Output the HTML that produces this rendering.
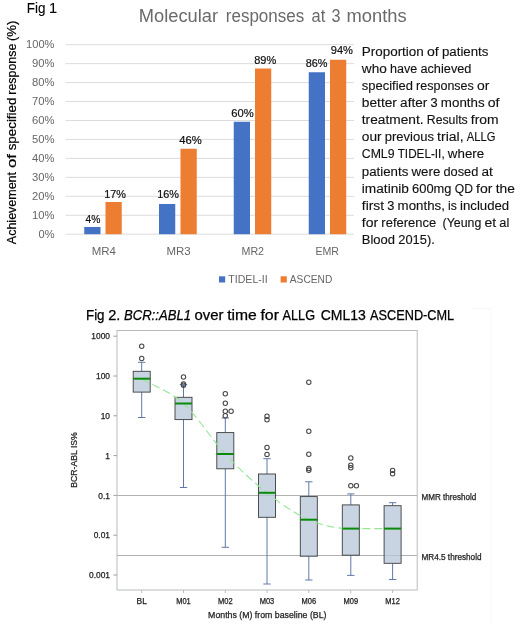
<!DOCTYPE html>
<html><head><meta charset="utf-8"><title>Fig</title>
<style>html,body{margin:0;padding:0;background:#fff}svg{display:block;filter:blur(0.45px)}text{font-family:"Liberation Sans",sans-serif}</style>
</head><body>
<svg width="520" height="624" viewBox="0 0 520 624">
<rect width="520" height="624" fill="#fff"/>
<line x1="65.6" x2="354" y1="234.20" y2="234.20" stroke="#dcdcdc" stroke-width="1"/>
<line x1="65.6" x2="354" y1="215.25" y2="215.25" stroke="#dcdcdc" stroke-width="1"/>
<line x1="65.6" x2="354" y1="196.30" y2="196.30" stroke="#dcdcdc" stroke-width="1"/>
<line x1="65.6" x2="354" y1="177.35" y2="177.35" stroke="#dcdcdc" stroke-width="1"/>
<line x1="65.6" x2="354" y1="158.40" y2="158.40" stroke="#dcdcdc" stroke-width="1"/>
<line x1="65.6" x2="354" y1="139.45" y2="139.45" stroke="#dcdcdc" stroke-width="1"/>
<line x1="65.6" x2="354" y1="120.50" y2="120.50" stroke="#dcdcdc" stroke-width="1"/>
<line x1="65.6" x2="354" y1="101.55" y2="101.55" stroke="#dcdcdc" stroke-width="1"/>
<line x1="65.6" x2="354" y1="82.60" y2="82.60" stroke="#dcdcdc" stroke-width="1"/>
<line x1="65.6" x2="354" y1="63.65" y2="63.65" stroke="#dcdcdc" stroke-width="1"/>
<line x1="65.6" x2="354" y1="44.70" y2="44.70" stroke="#dcdcdc" stroke-width="1"/>
<text x="26.1" y="48.40" font-size="10.8" fill="#666" textLength="28.4" lengthAdjust="spacingAndGlyphs">100%</text>
<text x="32" y="67.35" font-size="10.8" fill="#666" textLength="22.5" lengthAdjust="spacingAndGlyphs">90%</text>
<text x="32" y="86.30" font-size="10.8" fill="#666" textLength="22.5" lengthAdjust="spacingAndGlyphs">80%</text>
<text x="32" y="105.25" font-size="10.8" fill="#666" textLength="22.5" lengthAdjust="spacingAndGlyphs">70%</text>
<text x="32" y="124.20" font-size="10.8" fill="#666" textLength="22.5" lengthAdjust="spacingAndGlyphs">60%</text>
<text x="32" y="143.15" font-size="10.8" fill="#666" textLength="22.5" lengthAdjust="spacingAndGlyphs">50%</text>
<text x="32" y="162.10" font-size="10.8" fill="#666" textLength="22.5" lengthAdjust="spacingAndGlyphs">40%</text>
<text x="32" y="181.05" font-size="10.8" fill="#666" textLength="22.5" lengthAdjust="spacingAndGlyphs">30%</text>
<text x="32" y="200.00" font-size="10.8" fill="#666" textLength="22.5" lengthAdjust="spacingAndGlyphs">20%</text>
<text x="32" y="218.95" font-size="10.8" fill="#666" textLength="22.5" lengthAdjust="spacingAndGlyphs">10%</text>
<text x="38.5" y="237.90" font-size="10.8" fill="#666" textLength="16.0" lengthAdjust="spacingAndGlyphs">0%</text>
<rect x="84.25" y="227" width="16.25" height="7.20" fill="#4472c4"/>
<rect x="105.5" y="202" width="16.25" height="32.20" fill="#ed7d31"/>
<rect x="159" y="204" width="16.25" height="30.20" fill="#4472c4"/>
<rect x="180.5" y="148.75" width="16.25" height="85.45" fill="#ed7d31"/>
<rect x="233.75" y="121.75" width="16.25" height="112.45" fill="#4472c4"/>
<rect x="255" y="68.5" width="16.25" height="165.70" fill="#ed7d31"/>
<rect x="308.75" y="72.25" width="16.25" height="161.95" fill="#4472c4"/>
<rect x="330" y="59.75" width="16.25" height="174.45" fill="#ed7d31"/>
<text x="85.5" y="223.25" font-size="10.8" fill="#111" textLength="14.8" lengthAdjust="spacingAndGlyphs" stroke="#111" stroke-width="0.2">4%</text>
<text x="104.25" y="198" font-size="10.8" fill="#111" textLength="21.8" lengthAdjust="spacingAndGlyphs" stroke="#111" stroke-width="0.2">17%</text>
<text x="157.25" y="198.4" font-size="10.8" fill="#111" textLength="21.8" lengthAdjust="spacingAndGlyphs" stroke="#111" stroke-width="0.2">16%</text>
<text x="179.25" y="143.75" font-size="10.8" fill="#111" textLength="22.5" lengthAdjust="spacingAndGlyphs" stroke="#111" stroke-width="0.2">46%</text>
<text x="231.25" y="116.75" font-size="10.8" fill="#111" textLength="22.5" lengthAdjust="spacingAndGlyphs" stroke="#111" stroke-width="0.2">60%</text>
<text x="254.25" y="64" font-size="10.8" fill="#111" textLength="22.0" lengthAdjust="spacingAndGlyphs" stroke="#111" stroke-width="0.2">89%</text>
<text x="305.75" y="67.25" font-size="10.8" fill="#111" textLength="21.8" lengthAdjust="spacingAndGlyphs" stroke="#111" stroke-width="0.2">86%</text>
<text x="330.75" y="54" font-size="10.8" fill="#111" textLength="22.2" lengthAdjust="spacingAndGlyphs" stroke="#111" stroke-width="0.2">94%</text>
<text x="91.8" y="254.7" font-size="10.8" fill="#666" textLength="24.2" lengthAdjust="spacingAndGlyphs">MR4</text>
<text x="166.4" y="254.7" font-size="10.8" fill="#666" textLength="24.2" lengthAdjust="spacingAndGlyphs">MR3</text>
<text x="241.5" y="254.7" font-size="10.8" fill="#666" textLength="22.5" lengthAdjust="spacingAndGlyphs">MR2</text>
<text x="315.4" y="254.7" font-size="10.8" fill="#666" textLength="23.6" lengthAdjust="spacingAndGlyphs">EMR</text>
<rect x="219" y="276.3" width="6.2" height="6.2" fill="#4472c4"/>
<text x="228.3" y="283" font-size="10.8" fill="#666" textLength="39.4" lengthAdjust="spacingAndGlyphs">TIDEL-II</text>
<rect x="280.6" y="276.3" width="6.2" height="6.2" fill="#ed7d31"/>
<text x="289.8" y="283" font-size="10.8" fill="#666" textLength="42.5" lengthAdjust="spacingAndGlyphs">ASCEND</text>
<text x="138.8" y="21.7" font-size="17.5" fill="#6a6a6a" textLength="79.2" lengthAdjust="spacingAndGlyphs">Molecular</text>
<text x="225.8" y="21.7" font-size="17.5" fill="#6a6a6a" textLength="78.4" lengthAdjust="spacingAndGlyphs">responses</text>
<text x="311.6" y="21.7" font-size="17.5" fill="#6a6a6a" textLength="13.7" lengthAdjust="spacingAndGlyphs">at</text>
<text x="331.5" y="21.7" font-size="17.5" fill="#6a6a6a" textLength="9.0" lengthAdjust="spacingAndGlyphs">3</text>
<text x="346.5" y="21.7" font-size="17.5" fill="#6a6a6a" textLength="60.1" lengthAdjust="spacingAndGlyphs">months</text>
<text x="26.80" y="12.5" font-size="13.9" fill="#000" textLength="18.67" lengthAdjust="spacingAndGlyphs" stroke="#000" stroke-width="0.1">Fig</text>
<text x="49.11" y="12.5" font-size="13.9" fill="#000" textLength="8.16" lengthAdjust="spacingAndGlyphs" stroke="#000" stroke-width="0.1">1</text>
<g transform="translate(16.2,244.2) rotate(-90)">
<text x="0.05" y="0" font-size="12.6" fill="#000" textLength="72.2" lengthAdjust="spacingAndGlyphs" stroke="#000" stroke-width="0.2">Achievement</text>
<text x="76.10" y="0" font-size="12.6" fill="#000" textLength="14.1" lengthAdjust="spacingAndGlyphs" stroke="#000" stroke-width="0.2">of</text>
<text x="93.90" y="0" font-size="12.6" fill="#000" textLength="52.7" lengthAdjust="spacingAndGlyphs" stroke="#000" stroke-width="0.2">specified</text>
<text x="149.50" y="0" font-size="12.6" fill="#000" textLength="51.0" lengthAdjust="spacingAndGlyphs" stroke="#000" stroke-width="0.2">response</text>
<text x="203.20" y="0" font-size="12.6" fill="#000" textLength="20.4" lengthAdjust="spacingAndGlyphs" stroke="#000" stroke-width="0.2">(%)</text>
</g>
<rect x="354" y="38" width="166" height="215" fill="#fff"/>
<text x="361.80" y="55.6" font-size="12" fill="#111" textLength="62.00" lengthAdjust="spacingAndGlyphs" stroke="#111" stroke-width="0.12">Proportion</text>
<text x="426.99" y="55.6" font-size="12" fill="#111" textLength="11.76" lengthAdjust="spacingAndGlyphs" stroke="#111" stroke-width="0.12">of</text>
<text x="441.95" y="55.6" font-size="12" fill="#111" textLength="46.52" lengthAdjust="spacingAndGlyphs" stroke="#111" stroke-width="0.12">patients</text>
<text x="361.80" y="72.5" font-size="12" fill="#111" textLength="24.98" lengthAdjust="spacingAndGlyphs" stroke="#111" stroke-width="0.12">who</text>
<text x="389.97" y="72.5" font-size="12" fill="#111" textLength="27.23" lengthAdjust="spacingAndGlyphs" stroke="#111" stroke-width="0.12">have</text>
<text x="420.40" y="72.5" font-size="12" fill="#111" textLength="51.07" lengthAdjust="spacingAndGlyphs" stroke="#111" stroke-width="0.12">achieved</text>
<text x="361.80" y="89.5" font-size="12" fill="#111" textLength="51.13" lengthAdjust="spacingAndGlyphs" stroke="#111" stroke-width="0.12">specified</text>
<text x="416.13" y="89.5" font-size="12" fill="#111" textLength="57.68" lengthAdjust="spacingAndGlyphs" stroke="#111" stroke-width="0.12">responses</text>
<text x="477.00" y="89.5" font-size="12" fill="#111" textLength="12.38" lengthAdjust="spacingAndGlyphs" stroke="#111" stroke-width="0.12">or</text>
<text x="361.80" y="106.6" font-size="12" fill="#111" textLength="35.15" lengthAdjust="spacingAndGlyphs" stroke="#111" stroke-width="0.12">better</text>
<text x="400.14" y="106.6" font-size="12" fill="#111" textLength="27.19" lengthAdjust="spacingAndGlyphs" stroke="#111" stroke-width="0.12">after</text>
<text x="430.53" y="106.6" font-size="12" fill="#111" textLength="7.16" lengthAdjust="spacingAndGlyphs" stroke="#111" stroke-width="0.12">3</text>
<text x="440.88" y="106.6" font-size="12" fill="#111" textLength="43.71" lengthAdjust="spacingAndGlyphs" stroke="#111" stroke-width="0.12">months</text>
<text x="487.79" y="106.6" font-size="12" fill="#111" textLength="11.76" lengthAdjust="spacingAndGlyphs" stroke="#111" stroke-width="0.12">of</text>
<text x="361.80" y="123.5" font-size="12" fill="#111" textLength="61.78" lengthAdjust="spacingAndGlyphs" stroke="#111" stroke-width="0.12">treatment.</text>
<text x="426.78" y="123.5" font-size="12" fill="#111" textLength="40.91" lengthAdjust="spacingAndGlyphs" stroke="#111" stroke-width="0.12">Results</text>
<text x="470.88" y="123.5" font-size="12" fill="#111" textLength="27.75" lengthAdjust="spacingAndGlyphs" stroke="#111" stroke-width="0.12">from</text>
<text x="361.80" y="140.8" font-size="12" fill="#111" textLength="19.80" lengthAdjust="spacingAndGlyphs" stroke="#111" stroke-width="0.12">our</text>
<text x="384.80" y="140.8" font-size="12" fill="#111" textLength="49.15" lengthAdjust="spacingAndGlyphs" stroke="#111" stroke-width="0.12">previous</text>
<text x="437.14" y="140.8" font-size="12" fill="#111" textLength="26.44" lengthAdjust="spacingAndGlyphs" stroke="#111" stroke-width="0.12">trial,</text>
<text x="466.78" y="140.8" font-size="12" fill="#111" textLength="28.65" lengthAdjust="spacingAndGlyphs" stroke="#111" stroke-width="0.12">ALLG</text>
<text x="361.80" y="158.3" font-size="12" fill="#111" textLength="32.72" lengthAdjust="spacingAndGlyphs" stroke="#111" stroke-width="0.12">CML9</text>
<text x="397.71" y="158.3" font-size="12" fill="#111" textLength="46.95" lengthAdjust="spacingAndGlyphs" stroke="#111" stroke-width="0.12">TIDEL-II,</text>
<text x="447.86" y="158.3" font-size="12" fill="#111" textLength="36.33" lengthAdjust="spacingAndGlyphs" stroke="#111" stroke-width="0.12">where</text>
<text x="361.80" y="175.6" font-size="12" fill="#111" textLength="46.52" lengthAdjust="spacingAndGlyphs" stroke="#111" stroke-width="0.12">patients</text>
<text x="411.51" y="175.6" font-size="12" fill="#111" textLength="28.78" lengthAdjust="spacingAndGlyphs" stroke="#111" stroke-width="0.12">were</text>
<text x="443.48" y="175.6" font-size="12" fill="#111" textLength="34.86" lengthAdjust="spacingAndGlyphs" stroke="#111" stroke-width="0.12">dosed</text>
<text x="481.53" y="175.6" font-size="12" fill="#111" textLength="11.37" lengthAdjust="spacingAndGlyphs" stroke="#111" stroke-width="0.12">at</text>
<text x="361.80" y="192.5" font-size="12" fill="#111" textLength="47.13" lengthAdjust="spacingAndGlyphs" stroke="#111" stroke-width="0.12">imatinib</text>
<text x="412.12" y="192.5" font-size="12" fill="#111" textLength="39.42" lengthAdjust="spacingAndGlyphs" stroke="#111" stroke-width="0.12">600mg</text>
<text x="454.74" y="192.5" font-size="12" fill="#111" textLength="18.20" lengthAdjust="spacingAndGlyphs" stroke="#111" stroke-width="0.12">QD</text>
<text x="476.14" y="192.5" font-size="12" fill="#111" textLength="16.39" lengthAdjust="spacingAndGlyphs" stroke="#111" stroke-width="0.12">for</text>
<text x="495.73" y="192.5" font-size="12" fill="#111" textLength="19.19" lengthAdjust="spacingAndGlyphs" stroke="#111" stroke-width="0.12">the</text>
<text x="361.80" y="209.6" font-size="12" fill="#111" textLength="22.26" lengthAdjust="spacingAndGlyphs" stroke="#111" stroke-width="0.12">first</text>
<text x="387.26" y="209.6" font-size="12" fill="#111" textLength="7.16" lengthAdjust="spacingAndGlyphs" stroke="#111" stroke-width="0.12">3</text>
<text x="397.62" y="209.6" font-size="12" fill="#111" textLength="47.24" lengthAdjust="spacingAndGlyphs" stroke="#111" stroke-width="0.12">months,</text>
<text x="448.05" y="209.6" font-size="12" fill="#111" textLength="8.77" lengthAdjust="spacingAndGlyphs" stroke="#111" stroke-width="0.12">is</text>
<text x="460.01" y="209.6" font-size="12" fill="#111" textLength="49.19" lengthAdjust="spacingAndGlyphs" stroke="#111" stroke-width="0.12">included</text>
<text x="361.80" y="226.5" font-size="12" fill="#111" textLength="16.39" lengthAdjust="spacingAndGlyphs" stroke="#111" stroke-width="0.12">for</text>
<text x="381.39" y="226.5" font-size="12" fill="#111" textLength="54.84" lengthAdjust="spacingAndGlyphs" stroke="#111" stroke-width="0.12">reference</text>
<text x="442.61" y="226.5" font-size="12" fill="#111" textLength="38.69" lengthAdjust="spacingAndGlyphs" stroke="#111" stroke-width="0.12">(Yeung</text>
<text x="484.49" y="226.5" font-size="12" fill="#111" textLength="11.69" lengthAdjust="spacingAndGlyphs" stroke="#111" stroke-width="0.12">et</text>
<text x="499.38" y="226.5" font-size="12" fill="#111" textLength="10.01" lengthAdjust="spacingAndGlyphs" stroke="#111" stroke-width="0.12">al</text>
<text x="361.80" y="243.8" font-size="12" fill="#111" textLength="33.26" lengthAdjust="spacingAndGlyphs" stroke="#111" stroke-width="0.12">Blood</text>
<text x="398.25" y="243.8" font-size="12" fill="#111" textLength="36.50" lengthAdjust="spacingAndGlyphs" stroke="#111" stroke-width="0.12">2015).</text>
<text x="86.00" y="319.6" font-size="14" fill="#000" textLength="18.54" lengthAdjust="spacingAndGlyphs" stroke="#000" stroke-width="0.25">Fig</text>
<text x="108.16" y="319.6" font-size="14" fill="#000" textLength="12.14" lengthAdjust="spacingAndGlyphs" stroke="#000" stroke-width="0.25">2.</text>
<text x="123.91" y="319.6" font-size="14" fill="#000" textLength="67.07" lengthAdjust="spacingAndGlyphs" font-style="italic" stroke="#000" stroke-width="0.25">BCR::ABL1</text>
<text x="194.60" y="319.6" font-size="14" fill="#000" textLength="28.96" lengthAdjust="spacingAndGlyphs" stroke="#000" stroke-width="0.25">over</text>
<text x="227.17" y="319.6" font-size="14" fill="#000" textLength="29.64" lengthAdjust="spacingAndGlyphs" stroke="#000" stroke-width="0.25">time</text>
<text x="260.42" y="319.6" font-size="14" fill="#000" textLength="18.55" lengthAdjust="spacingAndGlyphs" stroke="#000" stroke-width="0.25">for</text>
<text x="282.59" y="319.6" font-size="14" fill="#000" textLength="32.42" lengthAdjust="spacingAndGlyphs" stroke="#000" stroke-width="0.25">ALLG</text>
<text x="320.7" y="319.6" font-size="14" fill="#000" textLength="45.2" lengthAdjust="spacingAndGlyphs" stroke="#000" stroke-width="0.25">CML13</text>
<text x="370.1" y="319.6" font-size="14" fill="#000" textLength="84.1" lengthAdjust="spacingAndGlyphs" stroke="#000" stroke-width="0.25">ASCEND-CML</text>
<line x1="117" x2="417.2" y1="495.50" y2="495.50" stroke="#b0b0b0" stroke-width="1"/>
<line x1="117" x2="417.2" y1="555.50" y2="555.50" stroke="#b0b0b0" stroke-width="1"/>
<rect x="117" y="330.5" width="300.2" height="259.5" fill="none" stroke="#b9bbbf" stroke-width="1"/>
<line x1="113.4" x2="117" y1="336.20" y2="336.20" stroke="#a0a0a0" stroke-width="1"/>
<text x="110" y="339.30" font-size="8.4" fill="#222" text-anchor="end" stroke="#222" stroke-width="0.25">1000</text>
<line x1="113.4" x2="117" y1="376.00" y2="376.00" stroke="#a0a0a0" stroke-width="1"/>
<text x="110" y="379.10" font-size="8.4" fill="#222" text-anchor="end" stroke="#222" stroke-width="0.25">100</text>
<line x1="113.4" x2="117" y1="415.80" y2="415.80" stroke="#a0a0a0" stroke-width="1"/>
<text x="110" y="418.90" font-size="8.4" fill="#222" text-anchor="end" stroke="#222" stroke-width="0.25">10</text>
<line x1="113.4" x2="117" y1="455.60" y2="455.60" stroke="#a0a0a0" stroke-width="1"/>
<text x="110" y="458.70" font-size="8.4" fill="#222" text-anchor="end" stroke="#222" stroke-width="0.25">1</text>
<line x1="113.4" x2="117" y1="495.40" y2="495.40" stroke="#a0a0a0" stroke-width="1"/>
<text x="110" y="498.50" font-size="8.4" fill="#222" text-anchor="end" stroke="#222" stroke-width="0.25">0.1</text>
<line x1="113.4" x2="117" y1="535.20" y2="535.20" stroke="#a0a0a0" stroke-width="1"/>
<text x="110" y="538.30" font-size="8.4" fill="#222" text-anchor="end" stroke="#222" stroke-width="0.25">0.01</text>
<line x1="113.4" x2="117" y1="575.00" y2="575.00" stroke="#a0a0a0" stroke-width="1"/>
<text x="110" y="578.10" font-size="8.4" fill="#222" text-anchor="end" stroke="#222" stroke-width="0.25">0.001</text>
<line x1="141.7" x2="141.7" y1="590" y2="593" stroke="#b9bbbf" stroke-width="1"/>
<text x="136.55" y="604.4" font-size="8.2" fill="#222" textLength="10.3" lengthAdjust="spacingAndGlyphs" stroke="#222" stroke-width="0.25">BL</text>
<line x1="183.5" x2="183.5" y1="590" y2="593" stroke="#b9bbbf" stroke-width="1"/>
<text x="176.20" y="604.4" font-size="8.2" fill="#222" textLength="14.6" lengthAdjust="spacingAndGlyphs" stroke="#222" stroke-width="0.25">M01</text>
<line x1="225.3" x2="225.3" y1="590" y2="593" stroke="#b9bbbf" stroke-width="1"/>
<text x="218.00" y="604.4" font-size="8.2" fill="#222" textLength="14.6" lengthAdjust="spacingAndGlyphs" stroke="#222" stroke-width="0.25">M02</text>
<line x1="267.0" x2="267.0" y1="590" y2="593" stroke="#b9bbbf" stroke-width="1"/>
<text x="259.70" y="604.4" font-size="8.2" fill="#222" textLength="14.6" lengthAdjust="spacingAndGlyphs" stroke="#222" stroke-width="0.25">M03</text>
<line x1="308.8" x2="308.8" y1="590" y2="593" stroke="#b9bbbf" stroke-width="1"/>
<text x="301.50" y="604.4" font-size="8.2" fill="#222" textLength="14.6" lengthAdjust="spacingAndGlyphs" stroke="#222" stroke-width="0.25">M06</text>
<line x1="350.8" x2="350.8" y1="590" y2="593" stroke="#b9bbbf" stroke-width="1"/>
<text x="343.50" y="604.4" font-size="8.2" fill="#222" textLength="14.6" lengthAdjust="spacingAndGlyphs" stroke="#222" stroke-width="0.25">M09</text>
<line x1="392.6" x2="392.6" y1="590" y2="593" stroke="#b9bbbf" stroke-width="1"/>
<text x="385.30" y="604.4" font-size="8.2" fill="#222" textLength="14.6" lengthAdjust="spacingAndGlyphs" stroke="#222" stroke-width="0.25">M12</text>
<text x="208.1" y="617.7" font-size="8.8" fill="#222" textLength="118.4" lengthAdjust="spacingAndGlyphs" stroke="#222" stroke-width="0.25">Months (M) from baseline (BL)</text>
<text transform="translate(77.3,460) rotate(-90)" font-size="8.7" fill="#222" text-anchor="middle" stroke="#222" stroke-width="0.25">BCR-ABL IS%</text>
<path d="M141.7,362.3V371.3M141.7,392.1V417.5" stroke="#6079a8" stroke-width="1" fill="none"/>
<line x1="138.0" x2="145.39999999999998" y1="362.3" y2="362.3" stroke="#6079a8" stroke-width="1"/>
<line x1="138.0" x2="145.39999999999998" y1="417.5" y2="417.5" stroke="#6079a8" stroke-width="1"/>
<rect x="133.2" y="371.3" width="17" height="20.80" fill="#b7c6da" fill-opacity="0.75" stroke="#3c3c3c" stroke-width="0.9"/>
<path d="M183.5,384.6V397.3M183.5,419.6V487.5" stroke="#6079a8" stroke-width="1" fill="none"/>
<line x1="179.8" x2="187.2" y1="384.6" y2="384.6" stroke="#6079a8" stroke-width="1"/>
<line x1="179.8" x2="187.2" y1="487.5" y2="487.5" stroke="#6079a8" stroke-width="1"/>
<rect x="175.0" y="397.3" width="17" height="22.30" fill="#b7c6da" fill-opacity="0.75" stroke="#3c3c3c" stroke-width="0.9"/>
<path d="M225.3,418V432.6M225.3,468.8V547.3" stroke="#6079a8" stroke-width="1" fill="none"/>
<line x1="221.60000000000002" x2="229.0" y1="418" y2="418" stroke="#6079a8" stroke-width="1"/>
<line x1="221.60000000000002" x2="229.0" y1="547.3" y2="547.3" stroke="#6079a8" stroke-width="1"/>
<rect x="216.8" y="432.6" width="17" height="36.20" fill="#b7c6da" fill-opacity="0.75" stroke="#3c3c3c" stroke-width="0.9"/>
<path d="M267.0,458.7V474M267.0,517.3V584" stroke="#6079a8" stroke-width="1" fill="none"/>
<line x1="263.3" x2="270.7" y1="458.7" y2="458.7" stroke="#6079a8" stroke-width="1"/>
<line x1="263.3" x2="270.7" y1="584" y2="584" stroke="#6079a8" stroke-width="1"/>
<rect x="258.5" y="474" width="17" height="43.30" fill="#b7c6da" fill-opacity="0.75" stroke="#3c3c3c" stroke-width="0.9"/>
<path d="M308.8,481.8V496.6M308.8,556.2V580" stroke="#6079a8" stroke-width="1" fill="none"/>
<line x1="305.1" x2="312.5" y1="481.8" y2="481.8" stroke="#6079a8" stroke-width="1"/>
<line x1="305.1" x2="312.5" y1="580" y2="580" stroke="#6079a8" stroke-width="1"/>
<rect x="300.3" y="496.6" width="17" height="59.60" fill="#b7c6da" fill-opacity="0.75" stroke="#3c3c3c" stroke-width="0.9"/>
<path d="M350.8,493.9V504.9M350.8,555.2V575.4" stroke="#6079a8" stroke-width="1" fill="none"/>
<line x1="347.1" x2="354.5" y1="493.9" y2="493.9" stroke="#6079a8" stroke-width="1"/>
<line x1="347.1" x2="354.5" y1="575.4" y2="575.4" stroke="#6079a8" stroke-width="1"/>
<rect x="342.3" y="504.9" width="17" height="50.30" fill="#b7c6da" fill-opacity="0.75" stroke="#3c3c3c" stroke-width="0.9"/>
<path d="M392.6,502.7V505.7M392.6,563.3V579.5" stroke="#6079a8" stroke-width="1" fill="none"/>
<line x1="388.90000000000003" x2="396.3" y1="502.7" y2="502.7" stroke="#6079a8" stroke-width="1"/>
<line x1="388.90000000000003" x2="396.3" y1="579.5" y2="579.5" stroke="#6079a8" stroke-width="1"/>
<rect x="384.1" y="505.7" width="17" height="57.60" fill="#b7c6da" fill-opacity="0.75" stroke="#3c3c3c" stroke-width="0.9"/>
<path d="M141.7,378.7 C155.6,387.0 169.6,390.9 183.5,403.5 C197.4,416.1 211.4,439.1 225.3,454 C239.2,468.9 253.1,481.9 267.0,492.8 C280.9,503.8 294.9,513.7 308.8,519.7 C322.8,525.7 336.8,528.6 350.8,528.6 C364.7,528.6 378.7,528.6 392.6,528.6" fill="none" stroke="#96e696" stroke-width="1.1" stroke-dasharray="8 4"/>
<line x1="133.2" x2="150.2" y1="378.7" y2="378.7" stroke="#0a8a0a" stroke-width="2"/>
<circle cx="141.7" cy="346.3" r="2.2" fill="none" stroke="#444" stroke-width="1.05"/>
<circle cx="141.7" cy="358.5" r="2.2" fill="none" stroke="#444" stroke-width="1.05"/>
<line x1="175.0" x2="192.0" y1="403.5" y2="403.5" stroke="#0a8a0a" stroke-width="2"/>
<circle cx="183.5" cy="377" r="2.2" fill="none" stroke="#444" stroke-width="1.05"/>
<circle cx="183.5" cy="384" r="2.2" fill="none" stroke="#444" stroke-width="1.05"/>
<circle cx="183.5" cy="385.2" r="2.2" fill="none" stroke="#444" stroke-width="1.05"/>
<line x1="216.8" x2="233.8" y1="454" y2="454" stroke="#0a8a0a" stroke-width="2"/>
<circle cx="225.3" cy="393.8" r="2.2" fill="none" stroke="#444" stroke-width="1.05"/>
<circle cx="225.3" cy="403.3" r="2.2" fill="none" stroke="#444" stroke-width="1.05"/>
<circle cx="225.3" cy="411.3" r="2.2" fill="none" stroke="#444" stroke-width="1.05"/>
<circle cx="231.10000000000002" cy="411.3" r="2.2" fill="none" stroke="#444" stroke-width="1.05"/>
<circle cx="225.3" cy="415.8" r="2.2" fill="none" stroke="#444" stroke-width="1.05"/>
<line x1="258.5" x2="275.5" y1="492.8" y2="492.8" stroke="#0a8a0a" stroke-width="2"/>
<circle cx="267.0" cy="416.2" r="2.2" fill="none" stroke="#444" stroke-width="1.05"/>
<circle cx="267.0" cy="419.8" r="2.2" fill="none" stroke="#444" stroke-width="1.05"/>
<circle cx="267.0" cy="447.5" r="2.2" fill="none" stroke="#444" stroke-width="1.05"/>
<circle cx="267.0" cy="454.4" r="2.2" fill="none" stroke="#444" stroke-width="1.05"/>
<line x1="300.3" x2="317.3" y1="519.7" y2="519.7" stroke="#0a8a0a" stroke-width="2"/>
<circle cx="308.8" cy="382.3" r="2.2" fill="none" stroke="#444" stroke-width="1.05"/>
<circle cx="308.8" cy="431.3" r="2.2" fill="none" stroke="#444" stroke-width="1.05"/>
<circle cx="308.8" cy="454.2" r="2.2" fill="none" stroke="#444" stroke-width="1.05"/>
<circle cx="308.8" cy="468.5" r="2.2" fill="none" stroke="#444" stroke-width="1.05"/>
<circle cx="308.8" cy="470.2" r="2.2" fill="none" stroke="#444" stroke-width="1.05"/>
<line x1="342.3" x2="359.3" y1="528.6" y2="528.6" stroke="#0a8a0a" stroke-width="2"/>
<circle cx="350.8" cy="458" r="2.2" fill="none" stroke="#444" stroke-width="1.05"/>
<circle cx="350.8" cy="465.3" r="2.2" fill="none" stroke="#444" stroke-width="1.05"/>
<circle cx="350.8" cy="467.7" r="2.2" fill="none" stroke="#444" stroke-width="1.05"/>
<circle cx="350.8" cy="485.8" r="2.2" fill="none" stroke="#444" stroke-width="1.05"/>
<circle cx="356.40000000000003" cy="485.8" r="2.2" fill="none" stroke="#444" stroke-width="1.05"/>
<line x1="384.1" x2="401.1" y1="528.6" y2="528.6" stroke="#0a8a0a" stroke-width="2"/>
<circle cx="392.6" cy="470.4" r="2.2" fill="none" stroke="#444" stroke-width="1.05"/>
<circle cx="392.6" cy="473.7" r="2.2" fill="none" stroke="#444" stroke-width="1.05"/>
<text x="421.5" y="499.8" font-size="8.4" fill="#222" textLength="54.7" lengthAdjust="spacingAndGlyphs" stroke="#222" stroke-width="0.25">MMR threshold</text>
<text x="421.5" y="559.6" font-size="8.4" fill="#222" textLength="60" lengthAdjust="spacingAndGlyphs" stroke="#222" stroke-width="0.25">MR4.5 threshold</text>
<path d="M472 308.5H491V624" fill="none" stroke="#f6f6f6" stroke-width="1"/>
</svg>
</body></html>
